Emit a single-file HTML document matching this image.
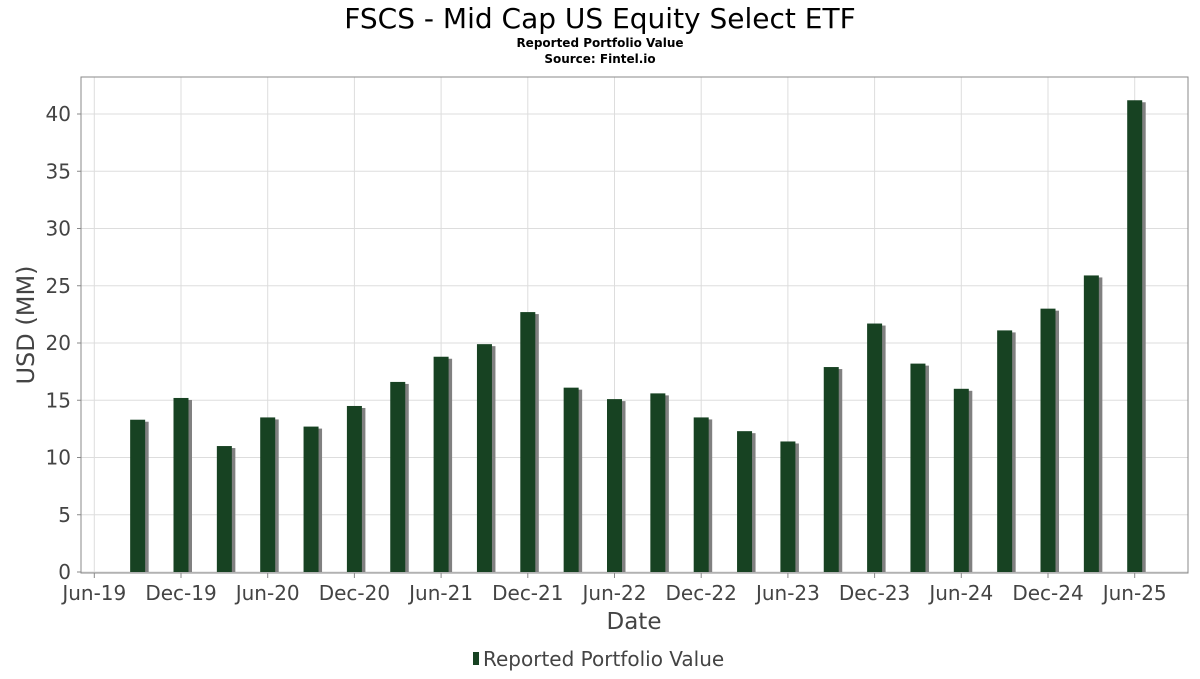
<!DOCTYPE html>
<html><head><meta charset="utf-8"><style>
body{margin:0;background:#fff;font-family:"DejaVu Sans","Liberation Sans",sans-serif}
</style></head><body>
<svg id="c" width="1200" height="675" xmlns="http://www.w3.org/2000/svg">
<text x="600" y="28" text-anchor="middle" font-size="28" fill="#000">FSCS - Mid Cap US Equity Select ETF</text>
<text x="600" y="47" text-anchor="middle" font-size="12" font-weight="bold">Reported Portfolio Value</text>
<text x="600" y="63" text-anchor="middle" font-size="12" font-weight="bold">Source: Fintel.io</text>
<g id="grid"></g><g id="bars"></g><g id="axes"></g>
<text x="634" y="629" text-anchor="middle" font-size="23" fill="#444">Date</text>
<text transform="translate(34,325) rotate(-90)" text-anchor="middle" font-size="24" fill="#444">USD (MM)</text>
<g><rect x="473" y="652" width="6" height="13" fill="#174222"/><text x="483" y="666" font-size="20" fill="#444">Reported Portfolio Value</text></g>
</svg>
<script>
const categories=["Sep-19","Dec-19","Mar-20","Jun-20","Sep-20","Dec-20","Mar-21","Jun-21","Sep-21","Dec-21","Mar-22","Jun-22","Sep-22","Dec-22","Mar-23","Jun-23","Sep-23","Dec-23","Mar-24","Jun-24","Sep-24","Dec-24","Mar-25","Jun-25"];
const values=[13.3,15.2,11.0,13.5,12.7,14.5,16.6,18.8,19.9,22.7,16.1,15.1,15.6,13.5,12.3,11.4,17.9,21.7,18.2,16.0,21.1,23.0,25.9,41.2];
const xTicks=["Jun-19","Dec-19","Jun-20","Dec-20","Jun-21","Dec-21","Jun-22","Dec-22","Jun-23","Dec-23","Jun-24","Dec-24","Jun-25"];
const yTicks=[0,5,10,15,20,25,30,35,40];
const NS="http://www.w3.org/2000/svg";
const L=81,R=1188,T=77,B=573;
const y=v=>572-v*11.45;
const xq=i=>94.3+i*43.35;
function mk(tag,a,p){const e=document.createElementNS(NS,tag);for(const k in a)e.setAttribute(k,a[k]);p.appendChild(e);return e;}
const g=document.getElementById('grid'),b=document.getElementById('bars'),ax=document.getElementById('axes');
yTicks.forEach(v=>{
 const l=mk('line',{x1:L,x2:R,y1:y(v),y2:y(v),stroke:'#ddd'},g);
 
 
 const t=mk('text',{x:71,y:y(v)+7,'text-anchor':'end','font-size':20,fill:'#444'},ax);t.textContent=v;
 
 
 mk('line',{x1:L-4,x2:L,y1:y(v),y2:y(v),stroke:'#888'},ax);
});
xTicks.forEach((s,i)=>{
 const x=xq(i*2);
 const l=mk('line',{x1:x,x2:x,y1:T,y2:B,stroke:'#ddd'},g);
 
 
 mk('line',{x1:x,x2:x,y1:B,y2:B+5,stroke:'#888'},ax);
 const t=mk('text',{x:x,y:600,'text-anchor':'middle','font-size':20,fill:'#444'},ax);t.textContent=s;
 
 
});
values.forEach((v,i)=>{
 const cx=xq(i+1);
 mk('rect',{x:cx-7+3,y:y(v)+2,width:15,height:572-y(v)-2,fill:'#808080'},b);
 const r=mk('rect',{x:cx-7.5,y:y(v),width:15,height:572-y(v),fill:'#174222'},b);
 
 
});
const f=mk('rect',{x:L,y:T,width:R-L,height:B-T,fill:'none',stroke:'#888'},ax);


</script>
</body></html>
